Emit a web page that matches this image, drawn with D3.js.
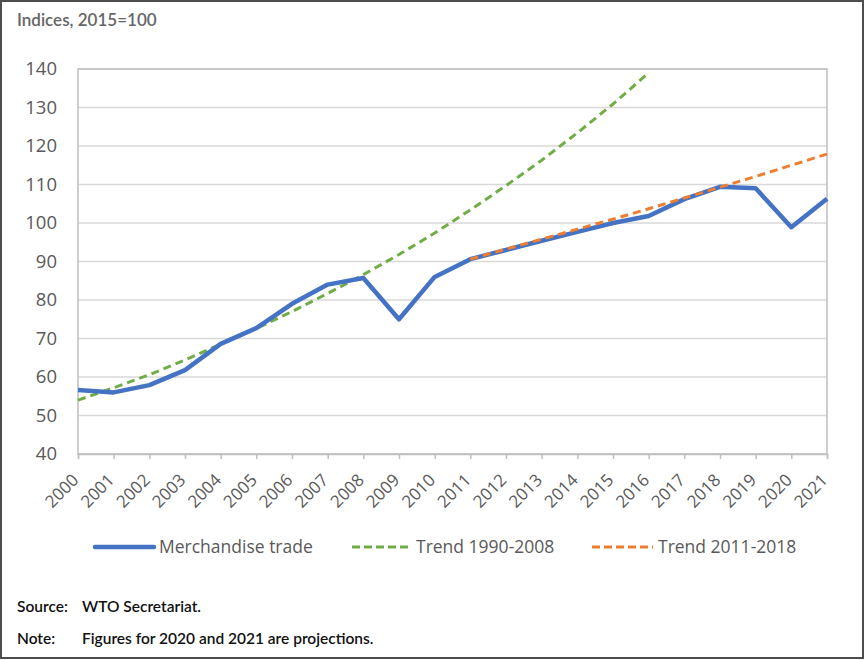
<!DOCTYPE html>
<html>
<head>
<meta charset="utf-8">
<script src="https://cdn.jsdelivr.net/npm/d3@7"></script>
<style>
  body { margin: 0; background: #fff; }
  svg { display: block; }
</style>
</head>
<body>
<div id="chart"></div>
<script>
const years = d3.range(2000, 2022);
const merchandise = [56.6, 56.0, 57.9, 61.8, 68.6, 72.7, 79.0, 84.0, 85.7, 75.0, 86.0,
  90.6, 93.0, 95.4, 97.7, 100.0, 101.8, 106.2, 109.4, 109.0, 98.9, 106.3];
const trendYears1 = d3.range(2000, 2017);
const trend1990 = [54.0, 57.2, 60.6, 64.4, 68.5, 72.6, 77.0, 81.7, 86.6, 91.8, 97.4,
  103.4, 109.7, 116.3, 123.4, 130.9, 139.0];
const trendYears2 = d3.range(2011, 2022);
const trend2011 = [90.6, 93.2, 95.8, 98.4, 101.0, 103.7, 106.5, 109.3, 112.1, 115.0, 117.9];
const yTicks = [40, 50, 60, 70, 80, 90, 100, 110, 120, 130, 140];

const W = 866, H = 660;
const axisFont = "'Open Sans', 'Noto Sans', sans-serif";
const noteFont = "Lato, 'Open Sans', sans-serif";
const textColor = '#595959';

const svg = d3.select('#chart').append('svg').attr('width', W).attr('height', H);

// outer frame
svg.append('rect').attr('x', 1).attr('y', 1).attr('width', W - 4).attr('height', H - 3)
  .attr('fill', '#fff').attr('stroke', '#4d4d4d').attr('stroke-width', 2);

svg.append('text').attr('x', 17).attr('y', 26)
  .style('font-family', noteFont).style('font-size', '17px').style('font-weight', 600)
  .style('fill', '#666').text('Indices, 2015=100');

const x = d3.scaleLinear().domain([2000, 2021]).range([78, 827]);
const y = d3.scaleLinear().domain([40, 140]).range([454, 69]);

// gridlines
svg.append('g').selectAll('line').data(yTicks).join('line')
  .attr('x1', 78).attr('x2', 827)
  .attr('y1', d => y(d)).attr('y2', d => y(d))
  .attr('stroke', '#d9d9d9').attr('stroke-width', 1.5);

// plot border
svg.append('rect').attr('x', 78).attr('y', y(140)).attr('width', 827 - 78).attr('height', y(40) - y(140))
  .attr('fill', 'none').attr('stroke', '#bfbfbf').attr('stroke-width', 1.5);

// y axis
const yAxis = svg.append('g').attr('transform', 'translate(78,0)')
  .call(d3.axisLeft(y).tickValues(yTicks).tickSize(0).tickPadding(21));
yAxis.select('.domain').remove();
yAxis.selectAll('text').style('font-family', axisFont).style('font-size', '18.5px').style('fill', textColor);

// x axis
const xAxis = svg.append('g').attr('transform', `translate(0,${y(40)})`)
  .call(d3.axisBottom(x).tickValues(years).tickFormat(d3.format('d')).tickSize(5));
xAxis.select('.domain').attr('stroke', '#bfbfbf').attr('stroke-width', 1.5);
xAxis.selectAll('.tick line').attr('stroke', '#bfbfbf').attr('stroke-width', 1.5);
xAxis.selectAll('text')
  .attr('transform', 'translate(-3,23) rotate(-45)')
  .attr('dy', '0.35em').attr('y', 0).attr('x', 0)
  .style('text-anchor', 'end')
  .style('font-family', axisFont).style('font-size', '17px').style('fill', textColor);

const line = d3.line().x(d => x(d[0])).y(d => y(d[1]));

svg.append('path').datum(trendYears1.map((yr, i) => [yr, trend1990[i]]))
  .attr('fill', 'none').attr('stroke', '#70ad47').attr('stroke-width', 3)
  .attr('stroke-dasharray', '8,5').attr('d', line);

svg.append('path').datum(years.map((yr, i) => [yr, merchandise[i]]))
  .attr('fill', 'none').attr('stroke', '#4472c4').attr('stroke-width', 4.5)
  .attr('stroke-linejoin', 'round').attr('d', line);

svg.append('path').datum(trendYears2.map((yr, i) => [yr, trend2011[i]]))
  .attr('fill', 'none').attr('stroke', '#ed7d31').attr('stroke-width', 3)
  .attr('stroke-dasharray', '8,5').attr('d', line);

// legend
const legend = [
  { label: 'Merchandise trade', color: '#4472c4', x1: 95, x2: 154, dash: null, w: 4.5, tx: 159 },
  { label: 'Trend 1990-2008', color: '#70ad47', x1: 352, x2: 410, dash: '8,4', w: 3, tx: 416 },
  { label: 'Trend 2011-2018', color: '#ed7d31', x1: 592, x2: 653, dash: '8,4', w: 3, tx: 658 }
];
const lg = svg.append('g').attr('transform', 'translate(0,547)');
legend.forEach(d => {
  lg.append('line').attr('x1', d.x1).attr('x2', d.x2).attr('y1', 0).attr('y2', 0)
    .attr('stroke', d.color).attr('stroke-width', d.w)
    .attr('stroke-linecap', d.dash ? 'butt' : 'round')
    .attr('stroke-dasharray', d.dash);
  lg.append('text').attr('x', d.tx).attr('y', 0).attr('dy', '0.35em')
    .style('font-family', axisFont).style('font-size', '17.5px').style('fill', textColor)
    .text(d.label);
});

// footnotes
const notes = [['Source:', 'WTO Secretariat.', 612], ['Note:', 'Figures for 2020 and 2021 are projections.', 644]];
notes.forEach(n => {
  svg.append('text').attr('x', 17).attr('y', n[2])
    .style('font-family', noteFont).style('font-size', '15.5px').style('font-weight', 600)
    .style('fill', '#111').text(n[0]);
  svg.append('text').attr('x', 82).attr('y', n[2])
    .style('font-family', noteFont).style('font-size', '15.5px').style('font-weight', 600)
    .style('fill', '#111').text(n[1]);
});
</script>
</body>
</html>
